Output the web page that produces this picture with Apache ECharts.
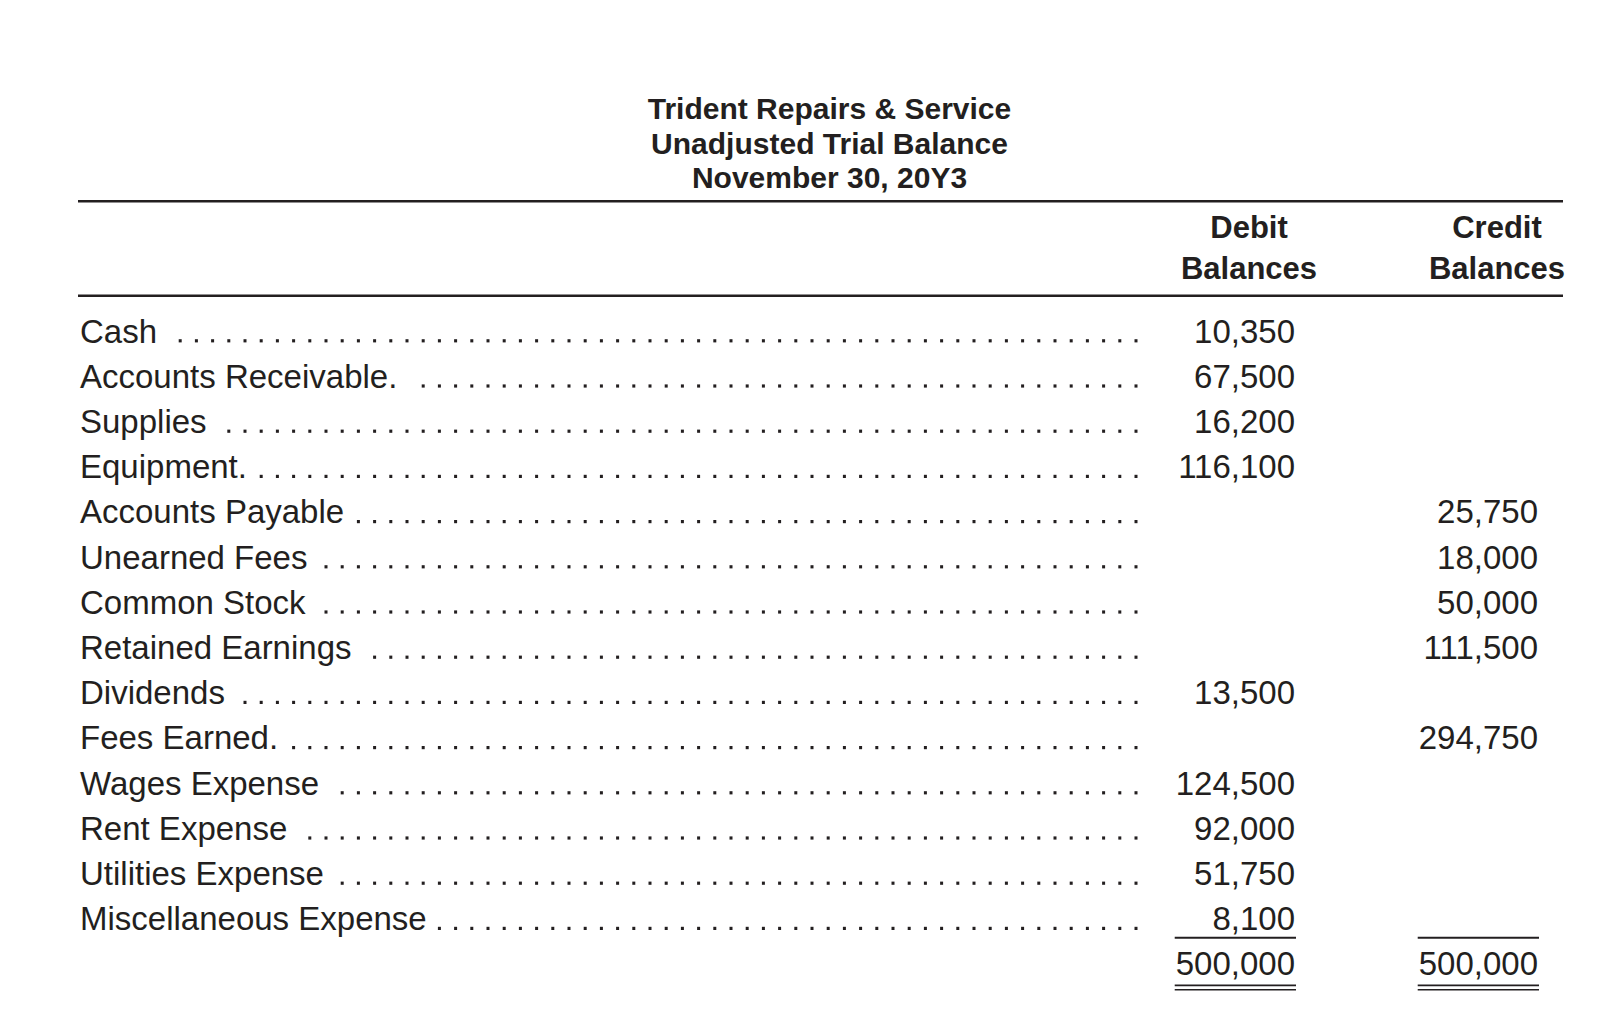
<!DOCTYPE html>
<html>
<head>
<meta charset="utf-8">
<script src="https://cdn.jsdelivr.net/npm/echarts@6/dist/echarts.min.js"></script>
<style>
html,body{margin:0;padding:0;background:#ffffff;}
#main{width:1620px;height:1010px;}
</style>
</head>
<body>
<div id="main"></div>
<script>
// ---------------- data ----------------
const titleLines = ['Trident Repairs & Service', 'Unadjusted Trial Balance', 'November 30, 20Y3'];
const columnHeaders = [['Debit', 'Balances'], ['Credit', 'Balances']];
const accounts = ['Cash', 'Accounts Receivable.', 'Supplies', 'Equipment.', 'Accounts Payable',
  'Unearned Fees', 'Common Stock', 'Retained Earnings', 'Dividends', 'Fees Earned.',
  'Wages Expense', 'Rent Expense', 'Utilities Expense', 'Miscellaneous Expense'];
const debitBalances = [10350, 67500, 16200, 116100, null, null, null, null, 13500, null, 124500, 92000, 51750, 8100];
const creditBalances = [null, null, null, null, 25750, 18000, 50000, 111500, null, 294750, null, null, null, null];
const totals = [500000, 500000];

// ---------------- layout / style ----------------
const INK = '#231f20';
const FAMILY = "'Liberation Sans', Arial, sans-serif";
const BODY_FONT = '33px ' + FAMILY;
const NUM_FONT = '33px ' + FAMILY;
const HEAD_FONT = 'bold 31px ' + FAMILY;
const TITLE_FONT = 'bold 30px ' + FAMILY;
const TABLE_LEFT = 78, TABLE_RIGHT = 1563;
const X_MAX = TABLE_RIGHT - TABLE_LEFT;
const LABEL_INSET = 2;
const LEADER_END = 1058, LEADER_PITCH = 16.2, LEADER_GAP = 12;
const DEBIT_RIGHT = 1217, CREDIT_RIGHT = 1460;

const rowCats = accounts.concat(['Totals']);
const measureCtx = document.createElement('canvas').getContext('2d');
function textWidth(t, font) { measureCtx.font = font; return measureCtx.measureText(t).width; }
function fmt(v) { return Number(v).toLocaleString('en-US'); }
function has(v) { return typeof v === 'number' && isFinite(v); }

const rowData = accounts.map((a, i) => [i, has(debitBalances[i]) ? debitBalances[i] : '-', has(creditBalances[i]) ? creditBalances[i] : '-']);
const totalData = [[accounts.length, totals[0], totals[1]]];

function numText(x, y, v) {
  return { type: 'text', style: { x: x, y: y, text: fmt(v), font: NUM_FONT, fill: INK, align: 'right', verticalAlign: 'middle' } };
}

function renderRow(params, api) {
  const i = api.value(0);
  const name = accounts[i];
  const p = api.coord([0, i]);
  const y = p[1];
  const xL = p[0] + LABEL_INSET;
  const children = [{ type: 'text', style: { x: xL, y: y, text: name, font: BODY_FONT, fill: INK, align: 'left', verticalAlign: 'middle' } }];
  const labelEnd = xL + textWidth(name, BODY_FONT);
  const endX = api.coord([LEADER_END, i])[0];
  for (let k = 0; ; k++) {
    const x = endX - k * LEADER_PITCH;
    if (x < labelEnd + LEADER_GAP) break;
    children.push({ type: 'rect', shape: { x: x - 1.5, y: y + 8.2, width: 3, height: 3.2 }, style: { fill: INK } });
  }
  const d = api.value(1), c = api.value(2);
  if (has(d)) children.push(numText(api.coord([DEBIT_RIGHT, i])[0], y, d));
  if (has(c)) children.push(numText(api.coord([CREDIT_RIGHT, i])[0], y, c));
  return { type: 'group', children: children };
}

function renderTotal(params, api) {
  const i = api.value(0);
  const y = api.coord([0, i])[1];
  const children = [];
  [[DEBIT_RIGHT, api.value(1)], [CREDIT_RIGHT, api.value(2)]].forEach(function (col) {
    const xr = api.coord([col[0], i])[0];
    const w = textWidth(fmt(col[1]), NUM_FONT) + 2;
    children.push(numText(xr, y, col[1]));
    children.push({ type: 'rect', shape: { x: xr - w + 1, y: y - 27.1, width: w, height: 2 }, style: { fill: INK } });
    children.push({ type: 'rect', shape: { x: xr - w + 1, y: y + 20.8, width: w, height: 1.6 }, style: { fill: INK } });
    children.push({ type: 'rect', shape: { x: xr - w + 1, y: y + 25.2, width: w, height: 1.6 }, style: { fill: INK } });
  });
  return { type: 'group', children: children };
}

const graphics = [];
const titleY = [108.5, 143.6, 177.7];
titleLines.forEach(function (t, k) {
  graphics.push({ type: 'text', x: 829.5, y: titleY[k], style: { text: t, font: TITLE_FONT, fill: INK, align: 'center', verticalAlign: 'middle' } });
});
const headX = [1249, 1497];
const headY = [227, 268.6];
columnHeaders.forEach(function (h, c) {
  h.forEach(function (t, k) {
    graphics.push({ type: 'text', x: headX[c], y: headY[k], style: { text: t, font: HEAD_FONT, fill: INK, align: 'center', verticalAlign: 'middle' } });
  });
});
[201.3, 295.7].forEach(function (yy) {
  graphics.push({ type: 'rect', shape: { x: TABLE_LEFT, y: yy - 1.3, width: TABLE_RIGHT - TABLE_LEFT, height: 2.6 }, style: { fill: INK } });
});

const chart = echarts.init(document.getElementById('main'), null, { renderer: 'svg', width: 1620, height: 1010 });
chart.setOption({
  backgroundColor: '#ffffff',
  animation: false,
  grid: { left: TABLE_LEFT, right: 1620 - TABLE_RIGHT, top: 308.4, bottom: 23.6 },
  xAxis: { type: 'value', min: 0, max: X_MAX, show: false },
  yAxis: { type: 'category', data: rowCats, inverse: true, show: false },
  graphic: graphics,
  series: [
    { type: 'custom', name: 'Accounts', renderItem: renderRow, data: rowData, encode: { x: [1, 2], y: 0 }, clip: false, silent: true },
    { type: 'custom', name: 'Totals', renderItem: renderTotal, data: totalData, encode: { x: [1, 2], y: 0 }, clip: false, silent: true }
  ]
});
</script>
</body>
</html>
